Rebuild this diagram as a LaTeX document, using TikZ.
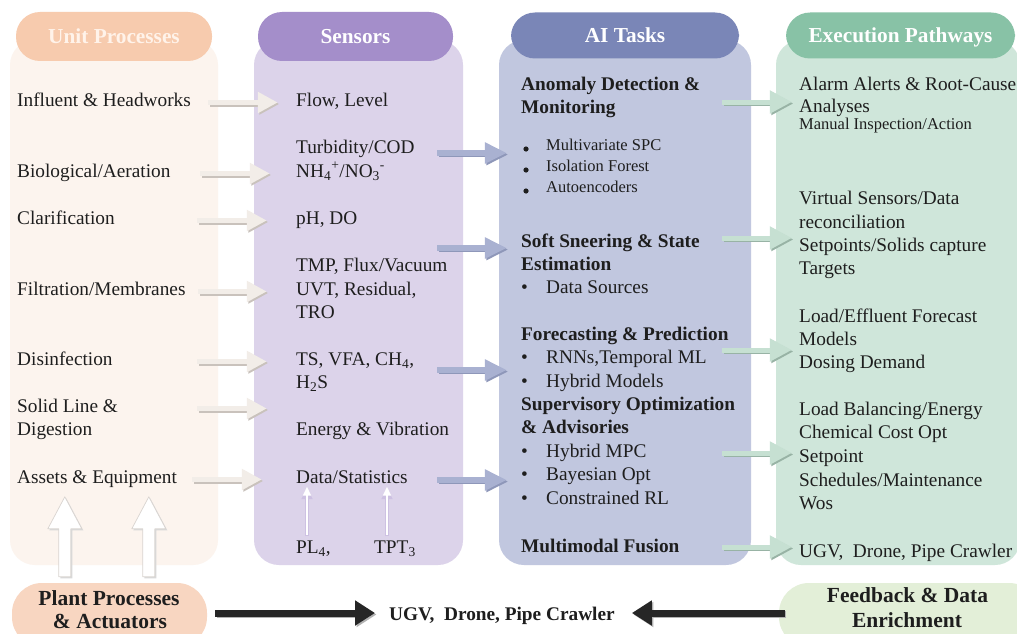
\documentclass[tikz,border=0pt]{standalone}
\usepackage{fontspec}
\setmainfont{Liberation Serif}
\usetikzlibrary{arrows.meta,calc}

\definecolor{ink}{HTML}{1E1E1E}
\definecolor{ubody}{HTML}{FCF4EE}
\definecolor{uhead}{HTML}{F7CBAE}
\definecolor{uhtext}{HTML}{FFF3EA}
\definecolor{sbody}{HTML}{DCD3EA}
\definecolor{shead}{HTML}{A48ECA}
\definecolor{abody}{HTML}{C1C7DF}
\definecolor{ahead}{HTML}{7A86B7}
\definecolor{ebody}{HTML}{CFE6DA}
\definecolor{ehead}{HTML}{88C2A6}
\definecolor{pplant}{HTML}{F8D6C1}
\definecolor{pfeed}{HTML}{E3EFD8}
\definecolor{uarrc}{HTML}{F2EDE8}
\definecolor{uarrs}{HTML}{C9C2BC}
\definecolor{sarrc}{HTML}{A9B1D1}
\definecolor{sarrs}{HTML}{8E97B9}
\definecolor{earrc}{HTML}{C6E0D2}
\definecolor{earrs}{HTML}{98B3A5}
\definecolor{blkc}{HTML}{262626}

\begin{document}
\begin{tikzpicture}[x=1pt,y=-1pt,
  colbox/.style={draw=none, inner sep=0pt, rounded corners=25pt, minimum height=525pt},
  hdr/.style={draw=none, inner sep=0pt, rounded corners=24pt, minimum height=49pt,
    text height=15pt, text depth=0pt, text=white,
    font=\fontsize{21.3}{25}\selectfont\bfseries},
  pill/.style={draw=none, inner sep=0pt, rounded corners=30pt, minimum height=64pt},
  txt/.style={anchor=base west, inner sep=0pt, text=ink, font=\fontsize{19.3}{23}\selectfont},
  btxt/.style={txt, font=\fontsize{19.3}{23}\selectfont\bfseries},
  stxt/.style={txt, font=\fontsize{16.5}{20}\selectfont},
  mtxt/.style={txt, font=\fontsize{16.5}{20}\selectfont},
  pilltxt/.style={anchor=base, inner sep=0pt, text=ink, font=\fontsize{21.5}{25}\selectfont\bfseries},
  uarr/.style={line width=5pt, draw=uarrc, -{Triangle[length=20pt,width=20pt]}},
  ushd/.style={line width=5pt, draw=uarrs, -{Triangle[length=20pt,width=20pt]}},
  sarr/.style={line width=5.5pt, draw=sarrc, -{Triangle[length=22pt,width=20pt]}},
  sshd/.style={line width=5.5pt, draw=sarrs, -{Triangle[length=22pt,width=20pt]}},
  earr/.style={line width=5pt, draw=earrc, -{Triangle[length=22pt,width=22pt]}},
  eshd/.style={line width=5pt, draw=earrs, -{Triangle[length=22pt,width=22pt]}},
  blk/.style={line width=7pt, draw=blkc, -{Triangle[length=20pt,width=24pt]}},
  blkshd/.style={line width=7pt, draw=black!30, -{Triangle[length=20pt,width=24pt]}},
  uparrow/.style={fill=white, draw=uarrs!70, line width=0.7pt, line join=round},
  upshd/.style={fill=black!15, draw=none},
  thinout/.style={line width=4.2pt, draw=shead!55, -{Triangle[length=11pt,width=10.5pt]}},
  thinin/.style={line width=2.4pt, draw=white, -{Triangle[length=9pt,width=7.5pt]}}
]
\clip (0,0) rectangle (1017,634);
\useasboundingbox (0,0) rectangle (1017,634);
\fill[white] (0,0) rectangle (1017,634);

% column bodies
\node[colbox, fill=ubody, minimum width=208pt] (colU) at (114,302.5) {};
\node[colbox, fill=sbody, minimum width=209pt] (colS) at (358.5,302.5) {};
\node[colbox, fill=abody, minimum width=252pt] (colA) at (625,302.5) {};
\node[colbox, fill=ebody, minimum width=244pt] (colE) at (898,302.5) {};

% column headers
\node[hdr, fill=uhead, text=uhtext, minimum width=196pt] (hU) at (114,36.5) {Unit Processes};
\node[hdr, fill=shead, minimum width=195pt] (hS) at (355.5,36.5) {Sensors};
\node[hdr, fill=ahead, minimum width=228pt, minimum height=46pt] (hA) at (625,35.5) {AI Tasks};
\node[hdr, fill=ehead, minimum width=229pt, minimum height=46pt] (hE) at (900.5,35.5) {Execution Pathways};

% unit processes
\foreach \n/\y/\t in {u1/106/{Influent \& Headworks}, u2/177/{Biological/Aeration},
  u3/224/{Clarification}, u4/295/{Filtration/Membranes}, u5/365/{Disinfection},
  u6/412/{Solid Line \&}, u7/435/{Digestion}, u8/483/{Assets \& Equipment}}
  \node[txt] (\n) at (17,\y) {\t};

% sensors
\foreach \n/\y/\t in {s1/106/{Flow, Level}, s2/153/{Turbidity/COD},
  s3/177/{NH\textsubscript{4}\textsuperscript{+}/NO\textsubscript{3}\textsuperscript{-}},
  s4/224/{pH, DO}, s5/271/{TMP, Flux/Vacuum}, s6/295/{UVT, Residual,}, s7/318/{TRO},
  s8/365/{TS, VFA, CH\textsubscript{4},}, s9/388/{H\textsubscript{2}S},
  s10/435/{Energy \& Vibration}, s11/483/{Data/Statistics}, s12/553/{PL\textsubscript{4},}}
  \node[txt] (\n) at (296,\y) {\t};
\node[txt] (s13) at (374,553) {TPT\textsubscript{3}};

% AI tasks
\foreach \n/\y/\t in {a1/90/{Anomaly Detection \&}, a2/113/{Monitoring},
  a6/247/{Soft Sneering \& State}, a7/270/{Estimation},
  a9/340/{Forecasting \& Prediction}, a12/410/{Supervisory Optimization},
  a13/433/{\& Advisories}, a17/552/{Multimodal Fusion}}
  \node[btxt] (\n) at (521,\y) {\t};
\foreach \n/\y/\t in {a3/150/{Multivariate SPC}, a4/171/{Isolation Forest}, a5/192/{Autoencoders}}
  {\node[stxt] (\n) at (546,\y) {\t};
   \fill[ink] ($(\n.base west)+(-20,-1)$) circle (2.6pt);}
\foreach \n/\y/\t in {a8/293/{Data Sources}, a10/363/{RNNs,Temporal ML}, a11/387/{Hybrid Models},
  a14/457/{Hybrid MPC}, a15/480/{Bayesian Opt}, a16/504/{Constrained RL}}
  \node[txt] (\n) at (521,\y) {\makebox[25pt][l]{\textbullet}\t};

% execution pathways
\foreach \n/\y/\t in {e1/90/{Alarm Alerts \& Root-Cause}, e2/112/{Analyses},
  e4/204/{Virtual Sensors/Data}, e5/228/{reconciliation}, e6/251/{Setpoints/Solids capture},
  e7/274/{Targets}, e8/322/{Load/Effluent Forecast}, e9/345/{Models}, e10/368/{Dosing Demand},
  e11/415/{Load Balancing/Energy}, e12/438/{Chemical Cost Opt}, e13/462/{Setpoint},
  e14/486/{Schedules/Maintenance}, e15/509/{Wos}, e16/557/{UGV,~ Drone, Pipe Crawler}}
  \node[txt] (\n) at (799,\y) {\t};
\node[mtxt] (e3) at (799,129) {Manual Inspection/Action};

% unit processes -> sensors
\foreach \n/\a/\b in {u1/-10/24, u2/-18/16, u3/-21/13, u4/-20/13, u5/-21/13, u6/-21/13, u8/-26/8} {
  \draw[ushd] ($(\n.base -| colU.east)+(\a+1.5,-2)$) -- ($(\n.base -| colS.west)+(\b+1.5,-2)$);
  \draw[uarr] ($(\n.base -| colU.east)+(\a,-3.5)$) -- ($(\n.base -| colS.west)+(\b,-3.5)$);
}

% sensors -> AI tasks
\foreach \n/\d in {s2/0, a6/1, s8/5, s11/-3} {
  \draw[sshd] ($(\n.base -| colS.east)+(-24.5,\d+1.5)$) -- ($(\n.base -| colA.west)+(9.5,\d+1.5)$);
  \draw[sarr] ($(\n.base -| colS.east)+(-26,\d)$) -- ($(\n.base -| colA.west)+(8,\d)$);
}

% AI tasks -> execution pathways
\foreach \n/\d in {e1/12, e5/10, e9/5, e13/-9, e16/-10} {
  \draw[eshd] ($(\n.base -| colA.east)+(-27.5,\d+1.5)$) -- ($(\n.base -| colE.west)+(17.5,\d+1.5)$);
  \draw[earr] ($(\n.base -| colA.east)+(-29,\d)$) -- ($(\n.base -| colE.west)+(16,\d)$);
}

% data sources feeding the statistics
\foreach \n/\dx in {s12/11, s13/13} {
  \draw[thinout] ($(\n.base west)+(\dx,-17)$) -- ($(\n.base west)+(\dx,-65)$);
  \draw[thinin] ($(\n.base west)+(\dx,-18)$) -- ($(\n.base west)+(\dx,-66.5)$);
}

% bottom pills
\node[pill, fill=pplant, minimum width=195pt] (pp) at (109.5,615) {};
\node[pill, fill=pfeed, minimum width=260pt] (fb) at (909,615) {};
\node[pilltxt] (pp1) at (109,605) {Plant Processes};
\node[pilltxt] (pp2) at (110,628) {\& Actuators};
\node[pilltxt] (fb1) at (907.5,602) {Feedback \& Data};
\node[pilltxt] (fb2) at (907,627) {Enrichment};
\node[btxt] (ugv) at (389,620) {UGV,~ Drone, Pipe Crawler};

% block arrows from plant processes into the unit column
\coordinate (ub1) at ($(pp.north west)+(53,-6)$);
\coordinate (ub2) at ($(pp.north west)+(137,-6)$);
\foreach \c in {ub1, ub2} {
  \fill[upshd] ($(\c)+(1.5,1.5)$) ++(-6,0) -- ++(0,-48) -- ++(-11,0) -- ++(17,-32)
    -- ++(17,32) -- ++(-11,0) -- ++(0,48) -- cycle;
  \draw[uparrow] (\c) ++(-6,0) -- ++(0,-48) -- ++(-11,0) -- ++(17,-32)
    -- ++(17,32) -- ++(-11,0) -- ++(0,48) -- cycle;
}

% black arrows towards the field robots
\draw[blkshd] ($(pp.east |- ugv.base)+(9.5,-5.5)$) -- ($(ugv.base west)+(-12.5,-5.5)$);
\draw[blk] ($(pp.east |- ugv.base)+(8,-7)$) -- ($(ugv.base west)+(-14,-7)$);
\draw[blkshd] ($(fb.west |- ugv.base)+(7.5,-5.5)$) -- ($(ugv.base east)+(18.5,-5.5)$);
\draw[blk] ($(fb.west |- ugv.base)+(6,-7)$) -- ($(ugv.base east)+(17,-7)$);
\end{tikzpicture}
\end{document}
